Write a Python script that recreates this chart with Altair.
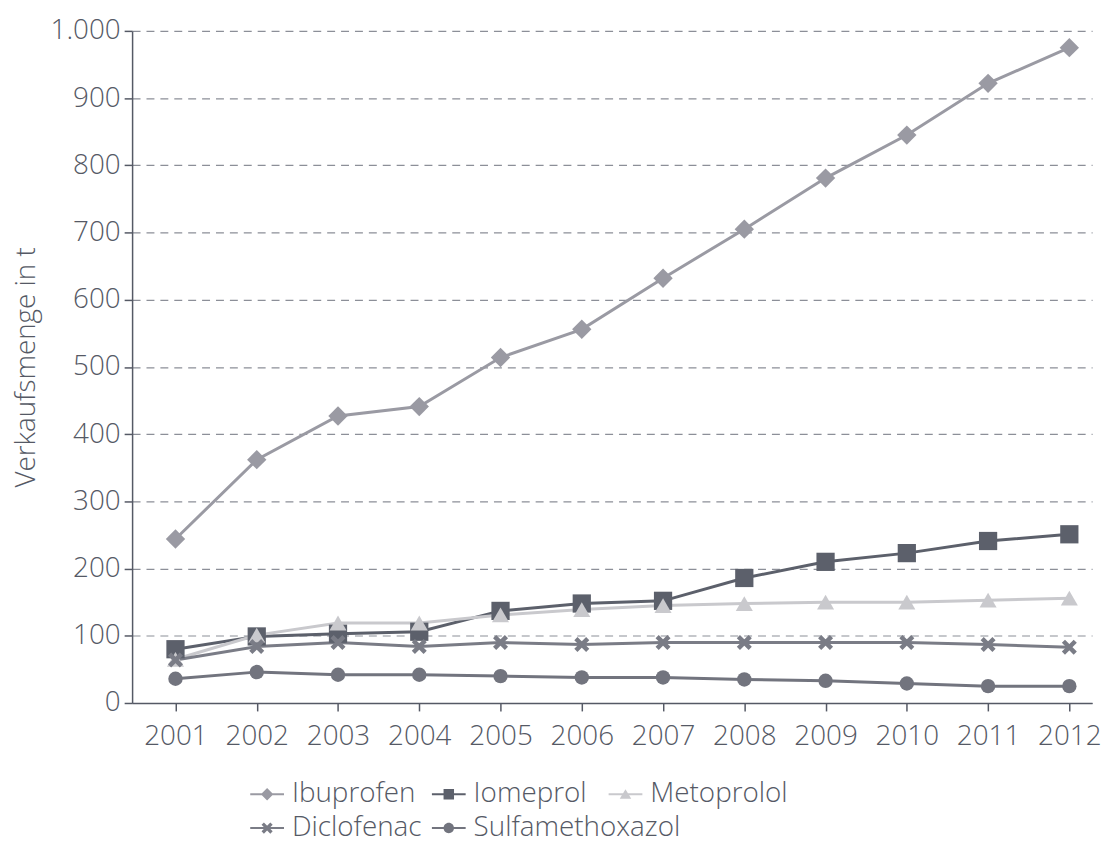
import altair as alt
import pandas as pd

years = list(range(2001, 2013))
names = ["Ibuprofen", "Iomeprol", "Metoprolol", "Diclofenac", "Sulfamethoxazol"]
ibuprofen = [244, 362, 427, 441, 514, 556, 632, 705, 781, 845, 922, 975]
iomeprol = [80, 99, 103, 106, 137, 148, 152, 186, 210, 223, 241, 251]
metoprolol = [65, 101, 119, 119, 131, 139, 145, 148, 150, 150, 153, 156]
diclofenac = [64, 84, 90, 84, 90, 87, 90, 90, 90, 90, 87, 83]
sulfamethoxazol = [36, 46, 42, 42, 40, 38, 38, 35, 33, 29, 25, 25]
y_ticks = list(range(0, 1001, 100))

series = [ibuprofen, iomeprol, metoprolol, diclofenac, sulfamethoxazol]
rows = []
for i, (n, vals) in enumerate(zip(names, series)):
    for yr, v in zip(years, vals):
        rows.append({"year": yr, "value": v, "series": n, "order": i})
df = pd.DataFrame(rows)

colors = ["#9a9aa3", "#5c606b", "#c9c9cd", "#7a7c86", "#72747e"]
text_color = "#555965"
font = "Open Sans"
fs = 28
fw = 300

color_scale = alt.Scale(domain=names, range=colors)

cross_path = ("M-0.55,-0.95L0.95,0.55L0.55,0.95L-0.95,-0.55Z"
              "M0.95,-0.55L-0.55,0.95L-0.95,0.55L0.55,-0.95Z")
mark_shapes = ["diamond", "square", "triangle-up", cross_path, "circle"]
mark_sizes = [380, 210, 280, 260, 270]

line_bar = "M-1,-0.06H1V0.06H-1Z"
legend_shapes = [
    line_bar + "M0,-0.37L0.37,0L0,0.37L-0.37,0Z",
    line_bar + "M-0.31,-0.31H0.31V0.31H-0.31Z",
    line_bar + "M0,-0.3L0.34,0.27L-0.34,0.27Z",
    line_bar + "M-0.19,-0.33L0.33,0.19L0.19,0.33L-0.33,-0.19Z"
               "M0.33,-0.19L-0.19,0.33L-0.33,0.19L0.19,-0.33Z",
    line_bar + "M0.31,0A0.31,0.31 0 1,1 -0.31,0A0.31,0.31 0 1,1 0.31,0Z",
]

x_enc = alt.X(
    "year:Q",
    scale=alt.Scale(domain=[2000.466, 2012.28], nice=False, zero=False),
    axis=alt.Axis(values=years, format="d", grid=False, title=None,
                  labelFontSize=fs, labelFont=font, labelColor=text_color,
                  labelFontWeight=fw,
                  tickSize=8, tickColor=text_color, domainColor=text_color,
                  domainWidth=1.5, tickWidth=1.5, labelPadding=12),
)
y_enc = alt.Y(
    "value:Q",
    scale=alt.Scale(domain=[0, 1000], nice=False),
    axis=alt.Axis(values=y_ticks,
                  labelExpr="replace(format(datum.value, ','), ',', '.')",
                  grid=True, gridDash=[8, 6], gridColor="#8c8f98", gridWidth=1.2,
                  title="Verkaufsmenge in t", titleFontSize=fs, titleFont=font,
                  titleColor=text_color, titleFontWeight=fw, titlePadding=10,
                  labelFontSize=fs, labelFont=font, labelColor=text_color,
                  labelFontWeight=fw,
                  tickSize=8, tickColor=text_color, domainColor=text_color,
                  domainWidth=1.5, tickWidth=1.5, labelPadding=4),
)

base = alt.Chart(df).encode(x=x_enc, y=y_enc)

lines = base.mark_line(strokeWidth=3).encode(
    color=alt.Color("series:N", scale=color_scale, legend=None),
    detail="series:N",
    order="year:Q",
)

points = base.mark_point(filled=True, opacity=1).encode(
    color=alt.Color("series:N", scale=color_scale, legend=None),
    shape=alt.Shape("series:N", scale=alt.Scale(domain=names, range=mark_shapes), legend=None),
    size=alt.Size("series:N", scale=alt.Scale(domain=names, range=mark_sizes), legend=None),
)

# legend columns (indices into names) and their x offsets from the plot's left edge
legend_groups = [[0, 3], [1, 4], [2]]
legend_xs = [119, 302, 480]

legend_layers = []
for grp, lx in zip(legend_groups, legend_xs):
    dom = [names[i] for i in grp]
    leg = alt.Legend(
        orient="none", legendX=lx, legendY=752, direction="vertical",
        rowPadding=3, title=None,
        labelFontSize=fs, labelFont=font, labelColor=text_color, labelOffset=8,
        labelFontWeight=fw, labelLimit=400,
        symbolSize=1156, symbolOpacity=1, symbolStrokeWidth=0,
    )
    legend_layers.append(
        alt.Chart(df).transform_filter("false").mark_point(filled=True, opacity=1).encode(
            x=alt.X("year:Q"), y=alt.Y("value:Q"),
            color=alt.Color("series:N", scale=alt.Scale(domain=dom, range=[colors[i] for i in grp]), legend=leg),
            shape=alt.Shape("series:N", scale=alt.Scale(domain=dom, range=[legend_shapes[i] for i in grp]), legend=leg),
        )
    )

chart = alt.layer(lines, points, *legend_layers).resolve_scale(
    shape="independent", color="independent"
).properties(
    width=967, height=677,
    autosize=alt.AutoSizeParams(type="none"),
    padding={"left": 125, "top": 20, "right": 13, "bottom": 140},
).configure_view(stroke=None)

chart.save("out.html", embed_options={"renderer": "svg", "actions": False})
